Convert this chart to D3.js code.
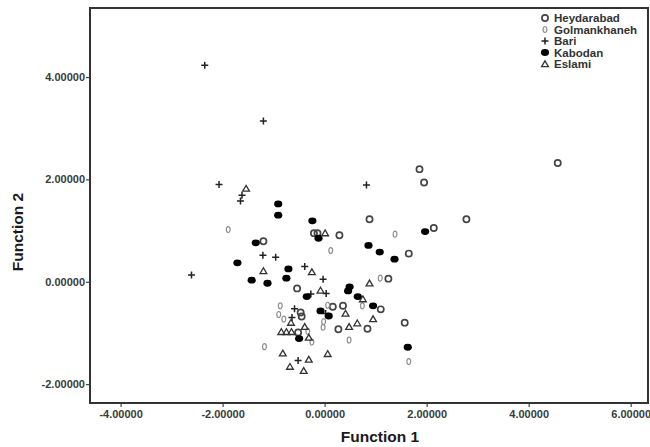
<!DOCTYPE html>
<html>
<head>
<meta charset="utf-8">
<script src="https://cdn.jsdelivr.net/npm/d3@7"></script>
<style>
  body { margin: 0; background: #fff; }
  text { font-family: "Liberation Sans", Arial, sans-serif; font-weight: bold; }
</style>
</head>
<body>
<div id="chart"></div>
<script>
// discriminant scores: [function 1, function 2]
var heydarabad = [[1.86,2.20],[1.95,1.94],[4.57,2.32],[0.88,1.22],[2.78,1.22],[2.14,1.05],
  [-0.21,0.95],[-0.14,0.95],[0.29,0.91],[-1.20,0.79],[1.65,0.55],[1.25,0.06],[-0.54,-0.13],
  [1.10,-0.54],[-0.47,-0.60],[-0.45,-0.68],[0.16,-0.49],[0.36,-0.47],[0.27,-0.93],
  [0.84,-0.92],[1.57,-0.80],[-0.52,-0.99]];
var golmankhaneh = [[-1.89,1.02],[0.12,0.61],[1.38,0.93],[1.09,0.07],[-0.87,-0.47],[-0.90,-0.64],
  [-0.80,-0.73],[0.06,-0.46],[0.74,-0.47],[-0.02,-0.78],[-0.03,-0.89],[-0.25,-1.18],
  [0.48,-1.14],[-1.18,-1.27],[1.65,-1.56],[-0.33,-0.97]];
var bari = [[-2.35,4.23],[-1.20,3.14],[-2.07,1.90],[-1.62,1.69],[-1.65,1.58],[0.82,1.89],
  [-2.61,0.13],[-1.21,0.52],[-0.96,0.48],[-0.39,0.30],[-0.03,0.05],[0.03,-0.23],
  [-0.59,-0.53],[-0.64,-0.70],[0.02,-0.62],[-0.52,-1.54],[-0.27,-0.24]];
var kabodan = [[-0.91,1.52],[-0.91,1.30],[-0.24,1.19],[-0.12,0.85],[-1.35,0.76],[-1.71,0.37],
  [-0.71,0.25],[-1.43,0.03],[-1.12,-0.03],[-0.75,0.07],[-0.35,-0.29],[0.49,-0.10],
  [0.46,-0.18],[0.65,-0.29],[0.86,0.71],[1.08,0.58],[1.37,0.44],[1.97,0.98],[0.95,-0.47],
  [-0.08,-0.57],[0.08,-0.67],[-0.50,-1.11],[1.63,-1.28]];
var eslami = [[-1.54,1.82],[0.01,0.95],[-1.20,0.21],[-0.25,0.19],[-0.08,-0.17],[0.88,-0.03],
  [0.75,-0.34],[0.41,-0.62],[0.95,-0.73],[0.64,-0.81],[0.48,-0.88],[-0.66,-0.80],
  [-0.39,-0.88],[-0.85,-0.98],[-0.75,-0.98],[-0.65,-0.98],[-0.31,-1.09],[-0.82,-1.40],
  [0.06,-1.41],[-0.31,-1.52],[-0.68,-1.66],[-0.41,-1.74]];

var groupNames = ["Heydarabad", "Golmankhaneh", "Bari", "Kabodan", "Eslami"];
var groupData = [heydarabad, golmankhaneh, bari, kabodan, eslami];
var xTicks = [-4, -2, 0, 2, 4, 6];
var yTicks = [-2, 0, 2, 4];

var width = 650, height = 447,
    frame = {left: 90, right: 648, top: 8, bottom: 403};

var svg = d3.select("#chart").append("svg")
  .attr("width", width).attr("height", height);

var x = d3.scaleLinear().domain([-4.6, 6.34]).range([frame.left, frame.right]);
var y = d3.scaleLinear().domain([-2.37, 5.35]).range([frame.bottom, frame.top]);
// plain hyphen for negatives, like the original software output
var fmt = v => d3.format(".5f")(v).replace("\u2212", "-");

// draws one marker of group g at (0,0) inside selection sel
function drawMarker(sel, g){
  if (g === 0) {
    sel.append("circle").attr("r", 3.1).attr("fill", "none")
      .attr("stroke", "#454545").attr("stroke-width", 1.7);
  } else if (g === 1) {
    sel.append("ellipse").attr("rx", 1.9).attr("ry", 3).attr("fill", "none")
      .attr("stroke", "#8e8e8e").attr("stroke-width", 1.2);
  } else if (g === 2) {
    sel.append("path").attr("d", "M-3.5,0H3.5M0,-3.5V3.5")
      .attr("stroke", "#222").attr("stroke-width", 1.5);
  } else if (g === 3) {
    sel.append("ellipse").attr("rx", 4.1).attr("ry", 3.4).attr("fill", "#000");
  } else {
    sel.append("path").attr("d", "M0,-3.2L3.4,2.6H-3.4Z").attr("fill", "none")
      .attr("stroke", "#333").attr("stroke-width", 1.3);
  }
}

var plot = svg.append("g");
groupData.forEach(function(pts, g){
  plot.selectAll(".pt" + g)
    .data(pts)
    .join("g")
    .attr("class", "pt" + g)
    .attr("transform", d => "translate(" + x(d[0]) + "," + y(d[1]) + ")")
    .each(function(){ drawMarker(d3.select(this), g); });
});

// axes
var xAxis = svg.append("g")
  .attr("transform", "translate(0," + frame.bottom + ")")
  .call(d3.axisBottom(x).tickValues(xTicks).tickFormat(fmt).tickSize(4).tickPadding(3));
var yAxis = svg.append("g")
  .attr("transform", "translate(" + frame.left + ",0)")
  .call(d3.axisLeft(y).tickValues(yTicks).tickFormat(fmt).tickSize(4).tickPadding(1));
[xAxis, yAxis].forEach(function(a){
  a.select(".domain").remove();
  a.selectAll("line").attr("stroke", "#444").attr("stroke-width", 1.2);
  a.selectAll("text").attr("font-size", 11).attr("fill", "#3a3a3a")
    .style("font-weight", "bold");
});

// frame
svg.append("rect")
  .attr("x", frame.left).attr("y", frame.top)
  .attr("width", frame.right - frame.left).attr("height", frame.bottom - frame.top)
  .attr("fill", "none").attr("stroke", "#333").attr("stroke-width", 2);

// axis titles
svg.append("text").attr("x", 380).attr("y", 442).attr("text-anchor", "middle")
  .attr("font-size", 15.5).attr("fill", "#1a1a1a").text("Function 1");
svg.append("text").attr("transform", "translate(23,232) rotate(-90)")
  .attr("text-anchor", "middle").attr("font-size", 15.5).attr("fill", "#1a1a1a")
  .text("Function 2");

// legend
var legend = svg.append("g").attr("transform", "translate(545,18)");
groupNames.forEach(function(name, g){
  var row = legend.append("g").attr("transform", "translate(0," + g * 11.5 + ")");
  drawMarker(row.append("g"), g);
  row.append("text").attr("x", 9).attr("y", 4).attr("font-size", 11.5)
    .attr("fill", "#333").text(name);
});
</script>
</body>
</html>
